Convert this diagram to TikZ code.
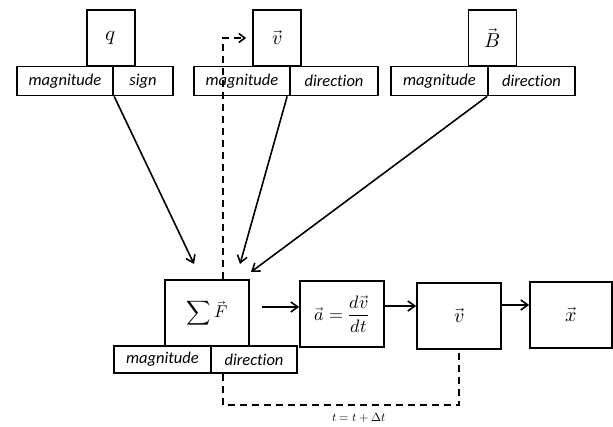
\documentclass[tikz,border=0pt]{standalone}
\usepackage{fontspec}
\usepackage{unicode-math}
\setmainfont{Carlito}[Ligatures=NoCommon]
\setmathfont{latinmodern-math.otf}
\usetikzlibrary{arrows.meta,calc}
\newcommand{\bigmath}[2]{{\fontsize{#1}{#1}\selectfont$\displaystyle #2$}}
\tikzset{
  box/.style={draw, line width=1.7pt, inner sep=0pt, minimum width=#1},
  qty/.style={box=48pt, minimum height=56pt},
  cell/.style={box=#1, minimum height=29pt, font=\fontsize{16.5}{18}\selectfont\itshape},
  stage/.style={box=84pt, minimum height=66pt},
  link/.style={line width=1.6pt, -{Straight Barb[length=7pt,width=10pt,line width=1.6pt]}},
  loop/.style={line width=1.7pt, dash pattern=on 7pt off 5pt}
}
\begin{document}
\begin{tikzpicture}[x=1pt,y=-1pt]
\useasboundingbox (0,0) rectangle (613,427);

% input quantities with their attribute cells
\node[qty] (q) at (111,38) {\bigmath{21}{q}};
\node[cell=96pt] (qmag) at (65,81) {magnitude};
\node[cell=60pt] (qsign) at (143,81) {sign};

\node[qty] (v) at (277,38) {\bigmath{20}{\vec{v}}};
\node[cell=96pt] (vmag) at (242,81) {magnitude};
\node[cell=88pt] (vdir) at (334,81) {direction};

\node[qty] (B) at (492.5,38) {\bigmath{20}{\vec{B}}};
\node[cell=97pt] (Bmag) at (439.5,81) {magnitude};
\node[cell=87pt] (Bdir) at (531.5,81) {direction};

% force and integration chain
\node[stage] (sf) at (207,313) {\bigmath{17}{\sum\vec{F}}};
\node[cell=97pt, minimum height=27pt] (sfmag) at (162.5,359.5) {magnitude};
\node[cell=86pt, minimum height=27pt] (sfdir) at (254,359.5) {direction};

\node[stage] (acc) at (342,314) {\bigmath{18}{\vec{a}=\frac{d\vec{v}}{dt}}};
\node[stage] (vel) at (459,316) {\bigmath{20}{\vec{v}}};
\node[stage, minimum width=82pt] (pos) at (571,315) {\bigmath{20}{\vec{x}}};

% arrow end points above the force box
\coordinate (tq) at (194,264);
\coordinate (tv) at (240,264);
\coordinate (tB) at (251,272);

\draw[link] ([xshift=2pt]qsign.south west) -- (tq);
\draw[link] ([xshift=-2pt]vdir.south west) -- (tv);
\draw[link] (Bdir.south west) -- (tB);

\draw[link] ([xshift=12pt,yshift=6pt]sf.east) -- ([yshift=7pt]acc.west);
\draw[link] ([yshift=8pt]acc.east) -- ([yshift=10pt]vel.west);
\draw[link] ([yshift=11pt]vel.east) -- ([yshift=10pt]pos.west);

% time-step feedback loop
\draw[loop, -{Straight Barb[length=6pt,width=9pt,line width=1.6pt]}, shorten >=6pt]
  ([xshift=16pt]sf.north) |- (v.west);
\draw[loop] ([xshift=-31pt]sfdir.south) -- ++(0,31) -| (vel.south);
\node (dt) at (359,418) {\bigmath{12}{t=t+\Delta t}};
\end{tikzpicture}
\end{document}
